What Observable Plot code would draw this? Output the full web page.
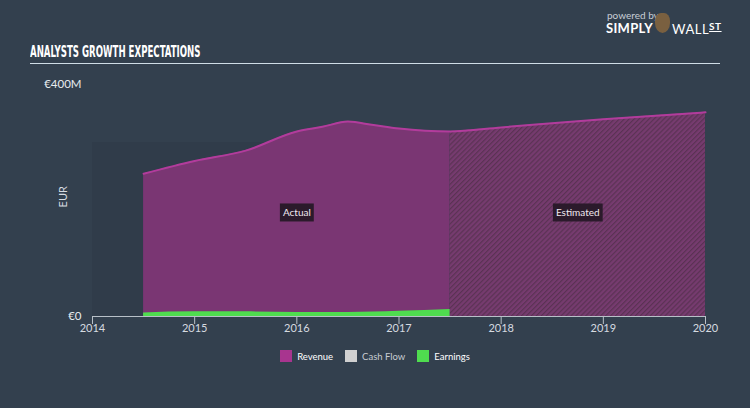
<!DOCTYPE html>
<html>
<head>
<meta charset="utf-8">
<script src="https://cdn.jsdelivr.net/npm/d3@7"></script>
<script src="https://cdn.jsdelivr.net/npm/@observablehq/plot@0.6"></script>
<style>
  html, body { margin: 0; padding: 0; background: #33404e; }
  #wrap { position: relative; width: 750px; height: 408px; background: #33404e; overflow: hidden; font-family: Lato, "Open Sans", sans-serif; }
  #title { position: absolute; left: 30px; top: 42px; color: #fff; font-family: "Liberation Sans Narrow", "DejaVu Sans Condensed", sans-serif; font-weight: bold; font-size: 16.5px; white-space: nowrap; transform: scaleX(0.58); transform-origin: left; }
  #rule { position: absolute; left: 30px; top: 63px; width: 690px; height: 1px; background: #cfdde6; }
  #logo1 { position: absolute; left: 607px; top: 9px; color: #c8ced6; font-size: 10px; }
  #logo2 { position: absolute; left: 606px; top: 20px; color: #fff; font-size: 13px; font-weight: bold; letter-spacing: 0.3px; }
  #logo3 { position: absolute; left: 672px; top: 20px; color: #fff; font-size: 13px; letter-spacing: 0.5px; }
  #logoface { position: absolute; left: 655px; top: 13px; width: 15px; height: 20px; background: #7a6040; border-radius: 40% 40% 50% 50%; }
  #legend { position: absolute; top: 350px; left: 0; width: 750px; display: flex; justify-content: center; font-size: 9.5px; color: #fff; }
  .item { display: flex; align-items: center; margin: 0 6px; }
  .sw { width: 12px; height: 12px; margin-right: 5px; }
  svg { position: absolute; left: 0; top: 0; }
</style>
</head>
<body>
<div id="wrap"></div>
<script>
// ---- data ----
const years = [2014, 2015, 2016, 2017, 2018, 2019, 2020];
const revenueActualX = [2014.5, 2015, 2015.5, 2016, 2016.25, 2016.5, 2016.75, 2017, 2017.5];
const revenueActualY = [246, 268, 286, 319, 327, 336, 330, 324, 319];
const revenueEstX = [2017.5, 2018, 2019, 2020];
const revenueEstY = [319, 326, 340, 352];
const earningsX = [2014.5, 2015, 2015.5, 2016, 2016.5, 2017, 2017.5];
const earningsY = [6, 8, 8, 7, 7, 9, 12];
const bandX = [2014, 2020];
const bandY = [0, 300];
const yTicks = [0, 400];
const yTickLabels = ["€0", "€400M"];
const seriesNames = ["Revenue", "Cash Flow", "Earnings"];
const seriesColors = ["#a8358f", "#d0d0d0", "#4fdc4f"];
const periodLabels = ["Actual", "Estimated"];
const periodLabelX = [2016, 2018.75];
const periodLabelY = 178;

const actual = revenueActualX.map((x, i) => ({x, y: revenueActualY[i]}));
const est = revenueEstX.map((x, i) => ({x, y: revenueEstY[i]}));
const all = actual.concat(est.slice(1));
const earnings = earningsX.map((x, i) => ({x, y: earningsY[i]}));
const labels = periodLabels.map((t, i) => ({t, x: periodLabelX[i], y: periodLabelY}));

const wrap = document.getElementById("wrap");

const chart = Plot.plot({
  width: 750,
  height: 408,
  marginLeft: 92,
  marginRight: 45,
  marginTop: 84,
  marginBottom: 92,
  style: {background: "transparent", fontFamily: "Lato, 'Open Sans', sans-serif", fontSize: "11px", color: "#d6dbe0"},
  x: {domain: [2014, 2020]},
  y: {domain: [0, 400]},
  marks: [
    Plot.rect([{x1: bandX[0], x2: bandX[1], y1: bandY[0], y2: bandY[1]}], {x1: "x1", x2: "x2", y1: "y1", y2: "y2", fill: "#303c4a"}),
    Plot.areaY(actual, {x: "x", y: "y", fill: "#7a3673", curve: "monotone-x"}),
    Plot.areaY(est, {x: "x", y: "y", fill: "url(#hatch)", curve: "monotone-x"}),
    Plot.lineY(all, {x: "x", y: "y", stroke: "#b23c9c", strokeWidth: 2, curve: "monotone-x"}),
    Plot.areaY(earnings, {x: "x", y: "y", fill: "#4fdc4f", curve: "monotone-x"}),
    Plot.ruleY([0], {stroke: "#b8c0c8", strokeWidth: 1}),
    Plot.axisX({ticks: years, tickFormat: d => String(d), tickSize: 8, tickPadding: 0, stroke: "#b8c0c8", fill: "#d6dbe0", fontSize: 11}),
    Plot.axisY({ticks: yTicks, tickFormat: d => yTickLabels[yTicks.indexOf(d)], tickSize: 0, tickPadding: 11, fill: "#e8ecef", fontSize: 11.5, label: null}),
    Plot.text(["EUR"], {frameAnchor: "left", y: () => 188, dx: -29, rotate: -90, fill: "#d6dbe0", fontSize: 11}),
    Plot.text(labels, {x: "x", y: "y", text: "t", fill: "#f0e8f0", fontSize: 10, className: "plabel"})
  ]
});
wrap.appendChild(chart);

// hatch pattern definition
const ns = "http://www.w3.org/2000/svg";
const defs = document.createElementNS(ns, "defs");
defs.innerHTML = `<pattern id="hatch" patternUnits="userSpaceOnUse" width="3.5" height="3.5" patternTransform="rotate(45)">
  <rect width="3.5" height="3.5" fill="#763b6f"></rect>
  <rect width="1.2" height="3.5" fill="#5a3253"></rect>
</pattern>`;
chart.insertBefore(defs, chart.firstChild);

// label backgrounds
chart.querySelectorAll(".plabel text").forEach(t => {
  const b = t.getBBox();
  const r = document.createElementNS(ns, "rect");
  r.setAttribute("x", b.x - 3);
  r.setAttribute("y", b.y - 3);
  r.setAttribute("width", b.width + 6);
  r.setAttribute("height", b.height + 6);
  r.setAttribute("fill", "#2b1a2b");
  const tr = t.getAttribute("transform");
  if (tr) r.setAttribute("transform", tr);
  t.parentNode.insertBefore(r, t);
});

// html overlays
const add = (id, html) => { const d = document.createElement("div"); d.id = id; d.innerHTML = html; wrap.appendChild(d); return d; };
add("title", "ANALYSTS GROWTH EXPECTATIONS");
add("rule", "");
add("logo1", "powered by");
add("logo2", "SIMPLY");
add("logoface", "");
add("logo3", "WALL<u style='font-size:10px;vertical-align:4px;font-weight:bold'>ST</u>");
const lg = add("legend", "");
seriesNames.forEach((n, i) => {
  const it = document.createElement("div");
  it.className = "item";
  it.innerHTML = `<span class="sw" style="background:${seriesColors[i]}"></span><span style="color:${i===1?'#c8ccd2':'#fff'}">${n}</span>`;
  lg.appendChild(it);
});
</script>
</body>
</html>
